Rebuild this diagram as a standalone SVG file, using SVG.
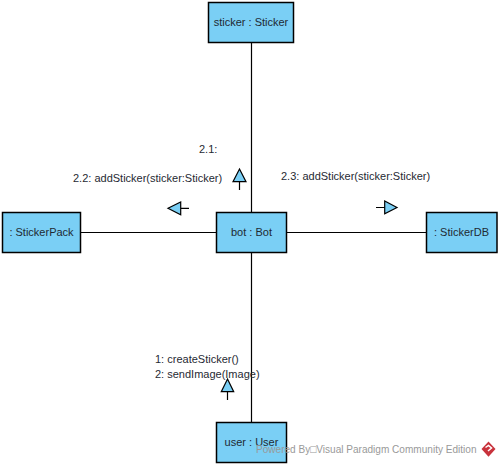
<svg xmlns="http://www.w3.org/2000/svg" width="500" height="466" viewBox="0 0 500 466">
<style>
text{font-family:"Liberation Sans",Arial,sans-serif;font-size:11px;fill:#1f2a33}
.box{fill:#7acff5;stroke:#000;stroke-width:1.5}
.line{fill:none;stroke:#000;stroke-width:1.2}
.head{fill:#7acff5;stroke:#000;stroke-width:1.2}
.c{text-anchor:middle}
.wm{fill:#999;font-size:10.500px}
</style>
<rect width="500" height="466" fill="#fff"/>
<g id="connectors">
<path class="line" d="M251.500 43V212M251.500 253V422M81 232.500H216M287 232.500H426"/>
<path class="line" d="M239.500 181.500V190M180.500 208.300H189M385 207.500H376M227.500 391.500V400"/>
<polygon class="head" points="239.500,169 246,181.700 233,181.700"/>
<polygon class="head" points="168,208.300 180.700,202 180.700,214.700"/>
<polygon class="head" points="397,207.500 384.700,201 384.700,213.700"/>
<polygon class="head" points="227.500,379 233.700,391.700 221.300,391.700"/>
</g>
<g id="node-sticker"><rect class="box" x="208.500" y="2.500" width="85" height="40"/><text class="c" x="251" y="26">sticker : Sticker</text></g>
<g id="node-bot"><rect class="box" x="216.500" y="212.500" width="70" height="40"/><text class="c" x="251.500" y="236">bot : Bot</text></g>
<g id="node-stickerpack"><rect class="box" x="2.500" y="212.500" width="78" height="40"/><text class="c" x="41.500" y="236">: StickerPack</text></g>
<g id="node-stickerdb"><rect class="box" x="426.500" y="212.500" width="70.500" height="40"/><text class="c" x="461.500" y="236">: StickerDB</text></g>
<g id="node-user"><rect class="box" x="216.500" y="422.500" width="70" height="40"/><text class="c" x="251.500" y="446">user : User</text></g>
<g id="labels">
<text x="199" y="153">2.1:</text>
<text x="73" y="182">2.2: addSticker(sticker:Sticker)</text>
<text x="281" y="180">2.3: addSticker(sticker:Sticker)</text>
<text x="155" y="363">1: createSticker()</text>
<text x="155" y="378">2: sendImage(Image)</text>
</g>
<g id="watermark">
<text class="wm" x="256" y="453" textLength="220.500" lengthAdjust="spacingAndGlyphs">Powered By□Visual Paradigm Community Edition</text>
<polygon points="488.500,441.500 495.500,449 488.500,456.800 481.500,449" fill="#c8323c"/>
<path d="M485.500 447.500L488.500 445.500L491.500 448L488 451" fill="none" stroke="#fff" stroke-width="1.500"/>
</g>
</svg>
